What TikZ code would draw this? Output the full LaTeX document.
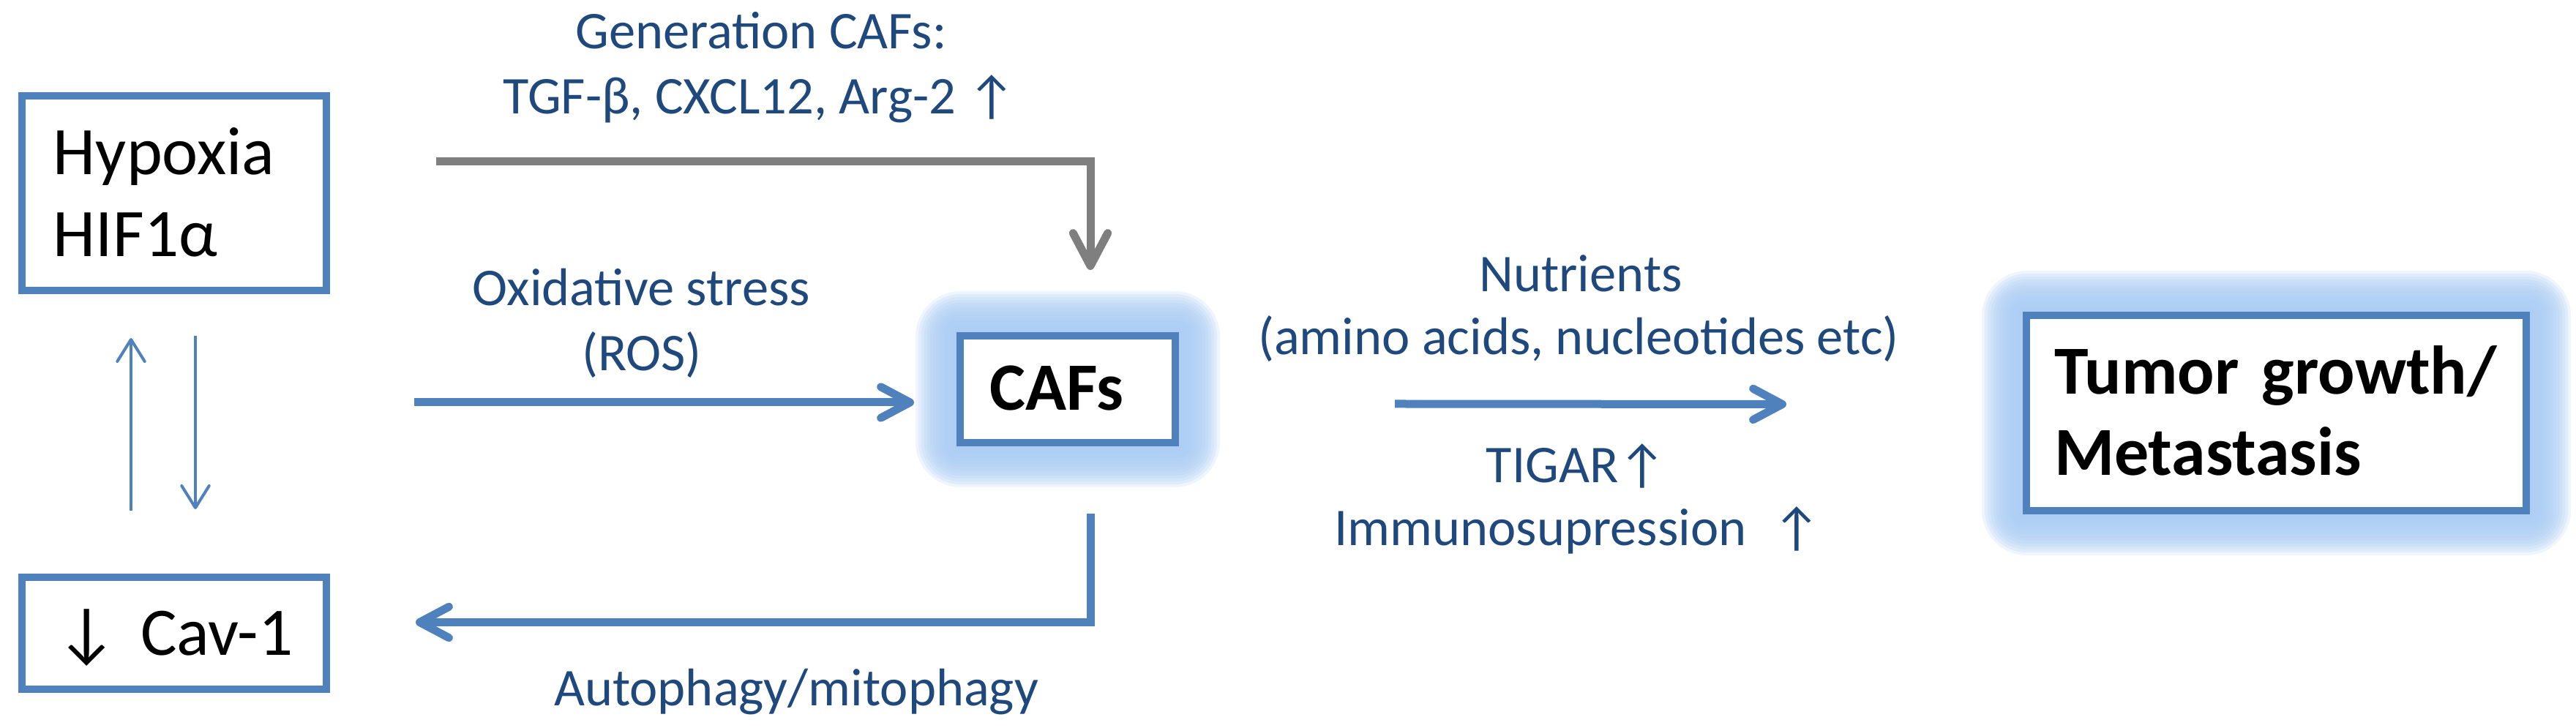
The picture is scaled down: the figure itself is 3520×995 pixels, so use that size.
\documentclass[tikz,border=0pt]{standalone}
\usepackage{fontspec}
\setmainfont{Carlito}
\usetikzlibrary{arrows.meta,calc,backgrounds}
\definecolor{boxblue}{HTML}{4F81BD}
\definecolor{labelblue}{HTML}{1F497D}
\definecolor{glowblue}{HTML}{A9CBF3}
\definecolor{arrowgray}{HTML}{7F7F7F}
\begin{document}
\begin{tikzpicture}[x=0.2pt,y=-0.2pt,
  cbox/.style={draw=boxblue, line width=2pt, fill=white, inner sep=0pt},
  blacktext/.style={font=\fontsize{18.6pt}{22.4pt}\selectfont, text=black},
  boldtext/.style={font=\fontsize{18.5pt}{22.2pt}\selectfont\bfseries, text=black},
  lbl/.style={font=\fontsize{14.5pt}{17.4pt}\selectfont, text=labelblue, anchor=base, inner sep=0pt},
  thickarrow/.style={draw=boxblue, line width=2.2pt, -{Straight Barb[length=8pt,width=8.5pt,round]}},
  grayarrow/.style={draw=arrowgray, line width=2.2pt, -{Straight Barb[length=9pt,width=9.5pt,round]}},
  thinarrow/.style={draw=boxblue, line width=0.8pt, -{Straight Barb[length=6pt,width=7.5pt,round]}}
]
\useasboundingbox (0,0) rectangle (3520,995);

% boxes
\node[cbox, blacktext, minimum width=83.2pt, minimum height=53.2pt, text width=66pt, align=left, text height=0pt, text depth=10pt]
  (hyp) at (238,264) {\mbox{Hypoxia}\\\mbox{HIF1α}};
\node[cbox, blacktext, minimum width=83.2pt, minimum height=30.6pt, text width=64.4pt, align=left, text height=12.2pt, text depth=0pt]
  (cav) at (238,865.5) {\mbox{↓ Cav-1}};
\node[cbox, boldtext, minimum width=58.8pt, minimum height=29.2pt, text height=11.6pt, text depth=0pt]
  (cafs) at (1459,532) {CAFs\hspace*{6pt}};
\node[cbox, boldtext, font=\fontsize{18.8pt}{22.2pt}\selectfont\bfseries, minimum width=136.6pt, minimum height=53.4pt, text width=121.4pt, align=left, text height=0pt, text depth=10.2pt]
  (tumor) at (3110.5,564.5) {\mbox{Tumor growth/}\\\mbox{Metastasis}};

% glows
\begin{scope}[on background layer]
  \foreach \n in {cafs,tumor}{
    \foreach \r in {4,8,...,56}{
      \pgfmathsetmacro{\rc}{\r*0.22}
      \fill[glowblue, opacity=0.2, rounded corners=\rc pt]
        ($(\n.south west)+(-\r,\r)$) rectangle ($(\n.north east)+(\r,-\r)$);
    }
  }
\end{scope}

% connectors
\draw[grayarrow] ($(hyp.east)+(145,-43)$) -| ($(cafs.north)+(31,-85)$);
\draw[thickarrow] ($(cafs.west)+(-741,18)$) -- ($(cafs.west)+(-58,18)$);
\draw[thickarrow] ($(cafs.south)+(31,92)$) |- ($(cav.east)+(117,-15)$);
\draw[thickarrow] ($(cafs.east)+(295,20)$) -- ($(tumor.west)+(-323,-12)$);
\draw[thinarrow] ($(cav.north)+(-59,-86)$) -- ($(hyp.south)+(-59,60)$);
\draw[thinarrow] ($(hyp.south)+(29,57)$) -- ($(cav.north)+(29,-88)$);

% labels
\node[lbl] (gen1) at (1040,67) {Generation CAFs:};
\node[lbl] (gen2) at (1038,156) {TGF-β, CXCL12, Arg-2 ↑};
\node[lbl] (ox1) at (876,418) {Oxidative stress};
\node[lbl] (ox2) at (877,507) {(ROS)};
\node[lbl] (auto) at (1088,965) {Autophagy/mitophagy};
\node[lbl] (nut1) at (2160,399) {Nutrients};
\node[lbl] (nut2) at (2157,485) {(amino acids, nucleotides etc)};
\node[lbl] (tig1) at (2154,660) {TIGAR↑};
\node[lbl] (tig2) at (2156,746) {Immunosupression\enspace ↑};
\end{tikzpicture}
\end{document}
